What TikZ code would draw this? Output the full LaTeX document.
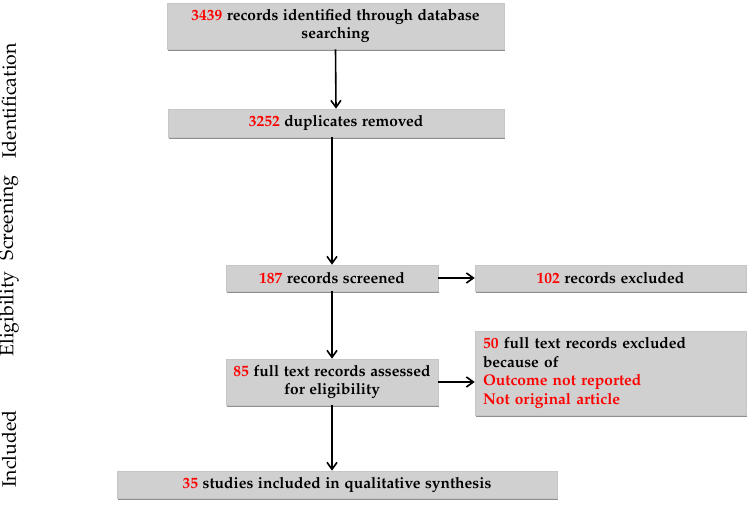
\documentclass[tikz,border=0pt]{standalone}
\usepackage[T1]{fontenc}
\renewcommand{\rmdefault}{pplx}
\usetikzlibrary{arrows.meta,shadows}
\definecolor{boxgray}{RGB}{208,208,208}
\definecolor{numred}{RGB}{255,0,0}
\newcommand{\nr}[1]{\textcolor{numred}{#1}}
\tikzset{
  box/.style={fill=boxgray, draw=gray!45, line width=0.6pt,
    drop shadow={shadow xshift=1.2pt, shadow yshift=-2pt, fill=black!55, opacity=0.8},
    font=\fontsize{15.5}{18}\selectfont\bfseries, inner sep=0pt, align=center},
  arr/.style={-{Straight Barb[length=7pt,width=10pt]}, line width=1.6pt},
  side/.style={rotate=90, font=\fontsize{19.5}{22}\selectfont, inner sep=0pt},
}
\begin{document}
\begin{tikzpicture}[x=1pt,y=-1pt]
\useasboundingbox (0,0) rectangle (749,508);
\node[box, minimum width=337pt, minimum height=46pt] (b1) at (335.5,26)
  {\nr{3439} records identified through database\\searching};
\node[box, minimum width=336pt, minimum height=28pt] (b2) at (336,123)
  {\nr{3252} duplicates removed};
\node[box, minimum width=212pt, minimum height=26pt] (b3) at (332,278)
  {\nr{187} records screened};
\node[box, minimum width=271pt, minimum height=26pt] (b4) at (610.5,278)
  {\nr{102} records excluded};
\node[box, minimum width=212pt, minimum height=46pt] (b5) at (332,382)
  {\nr{85} full text records assessed\\for eligibility};
\node[box, text width=255pt, inner xsep=8pt, align=left, minimum height=84pt,
  font=\fontsize{15.5}{18.5}\selectfont\bfseries] (b6) at (610.5,373)
  {\nr{50} full text records excluded\\because of\\\nr{Outcome not reported}\\\nr{Not original article}};
\node[box, minimum width=440pt, minimum height=27pt] (b7) at (337,484.5)
  {\nr{35} studies included in qualitative synthesis};

\node[side] (l1) at (9,101) {Identification};
\node[side] (l2) at (9,218) {Screening};
\node[side] (l3) at (9,314) {Eligibility};
\node[side] (l4) at (9,449) {Included};

\draw[arr] (b1.south) -- (b2.north);
\draw[arr] (b2.south -| b3.north) -- (b3.north);
\draw[arr] (b3.south) -- (b5.north);
\draw[arr] (b5.south) -- (b5.south |- b7.north);
\draw[arr] (b3.east) -- (b4.west);
\draw[arr] (b5.east) -- (b5.east -| b6.west);
\end{tikzpicture}
\end{document}
